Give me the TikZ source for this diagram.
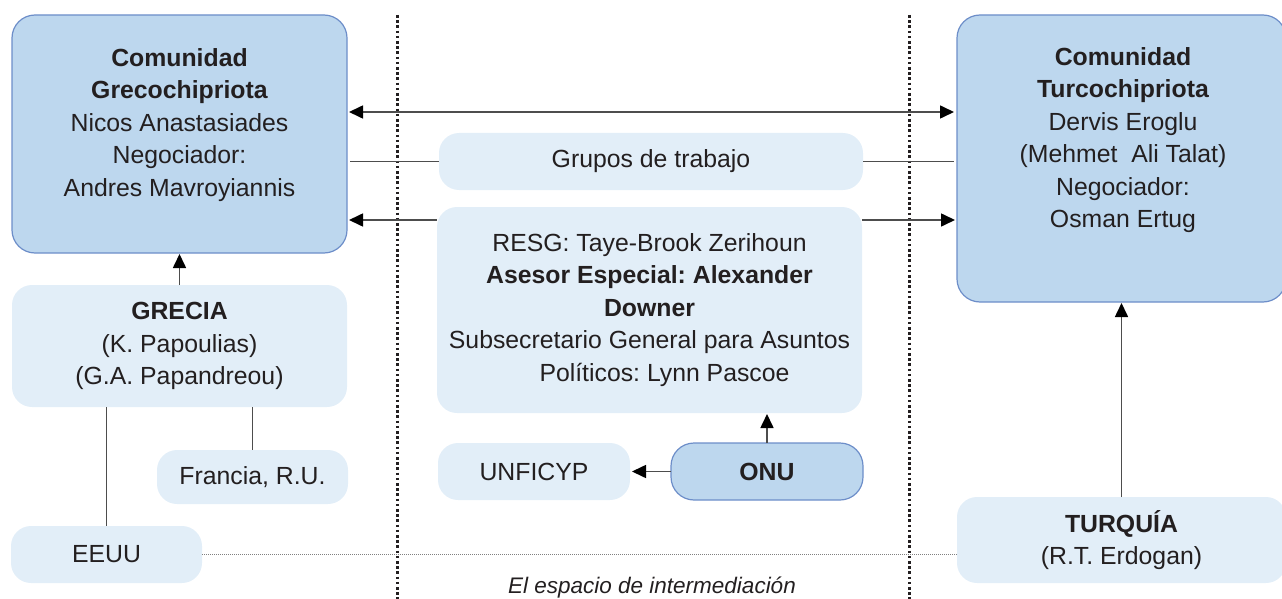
\documentclass[tikz,border=0pt]{standalone}
\usepackage{fontspec}
\setmainfont{Liberation Sans}
\usetikzlibrary{arrows.meta}
\definecolor{boxdark}{HTML}{BDD7EE}
\definecolor{boxlight}{HTML}{E2EEF8}
\definecolor{boxedge}{HTML}{6D8EC9}
\definecolor{ink}{HTML}{231F20}
\definecolor{wire}{HTML}{4D4D4D}
\frenchspacing

\begin{document}
\begin{tikzpicture}
  [x=1pt,y=-1pt,>={Triangle[length=14pt,width=13pt,color=black]},
   every node/.style={text=ink,font=\fontsize{24.8}{32.5}\selectfont,inner sep=0pt,outer sep=0pt,align=center},
   darkbox/.style={fill=boxdark,draw=boxedge,line width=1.2pt,rounded corners=23pt},
   lightbox/.style={fill=boxlight,rounded corners=20pt},
   link/.style={draw=wire,line width=1.6pt}]
  \clip (0,0) rectangle (1282,599);

  % the space of mediation
  \draw[ink,line width=3pt,dash pattern=on 2.6pt off 2.6pt] (397,15) -- (397,599);
  \draw[ink,line width=3pt,dash pattern=on 2.6pt off 2.6pt] (909,15) -- (909,599);
  \node[font=\fontsize{22.5}{27}\selectfont\itshape,anchor=base] (caption) at (652,593) {El espacio de intermediación};

  % the two communities
  \node[darkbox,minimum width=335,minimum height=238] (gc) at (179.5,134) {};
  \node (gctext) at (179.5,125) {\textbf{Comunidad}\\\textbf{Grecochipriota}\\Nicos Anastasiades\\Negociador:\\Andres Mavroyiannis};
  \node[darkbox,minimum width=329,minimum height=287] (tc) at (1121.5,158.5) {};
  \node (tctext) at (1123,140) {\textbf{Comunidad}\\\textbf{Turcochipriota}\\Dervis Eroglu\\(Mehmet~ Ali Talat)\\Negociador:\\Osman Ertug};

  % guarantors and others
  \node[lightbox,minimum width=335,minimum height=122] (grecia) at (179.5,346) {\textbf{GRECIA}\\(K. Papoulias)\\(G.A. Papandreou)};
  \node[lightbox,minimum width=191,minimum height=54] (francia) at (252.5,477) {Francia, R.U.};
  \node[lightbox,minimum width=191,minimum height=57] (eeuu) at (106.5,554.5) {EEUU};
  \node[lightbox,minimum width=329,minimum height=86] (turquia) at (1121.5,540) {\textbf{TURQUÍA}\\(R.T. Erdogan)};

  % the UN side
  \node[lightbox,minimum width=424,minimum height=57] (grupos) at (651,161.5) {Grupos de trabajo};
  \node[lightbox,minimum width=425,minimum height=206] (resg) at (649.5,310) {RESG: Taye-Brook Zerihoun\\\textbf{Asesor Especial: Alexander}\\\textbf{Downer}\\Subsecretario General para Asuntos\\\hspace*{30pt}Políticos: Lynn Pascoe};
  \node[lightbox,minimum width=192,minimum height=57] (unficyp) at (534,471.5) {UNFICYP};
  \node[darkbox,minimum width=192,minimum height=57] (onu) at (767,471.5) {\textbf{ONU}};

  \coordinate (ytop) at (0,112);
  \coordinate (ylow) at (0,220);

  \draw[link,<->,shorten <=2pt,shorten >=3pt] (gc.east |- ytop) -- (tc.west |- ytop);
  \draw[link,shorten >=3pt] (grupos.west) -- (gc.east |- grupos.west);
  \draw[link,shorten >=3pt] (grupos.east) -- (tc.west |- grupos.east);
  \draw[link,->,shorten >=2pt] (resg.west |- ylow) -- (gc.east |- ylow);
  \draw[link,->,shorten >=2pt] (resg.east |- ylow) -- (tc.west |- ylow);
  \draw[link,->,shorten >=1pt] (grecia.north) -- (gc.south);
  \draw[link] (grecia.south -| eeuu.north) -- (eeuu.north);
  \draw[link] (grecia.south -| francia.north) -- (francia.north);
  \draw[link,->,shorten >=1pt] (onu.north) -- (onu.north |- resg.south);
  \draw[link,->,shorten >=2pt] (onu.west) -- (unficyp.east);
  \draw[link,->,shorten >=1pt] (turquia.north) -- (turquia.north |- tc.south);
  \draw[gray,line width=1pt,dash pattern=on 1pt off 1pt] (eeuu.east) -- (turquia.west |- eeuu.east);
\end{tikzpicture}
\end{document}
